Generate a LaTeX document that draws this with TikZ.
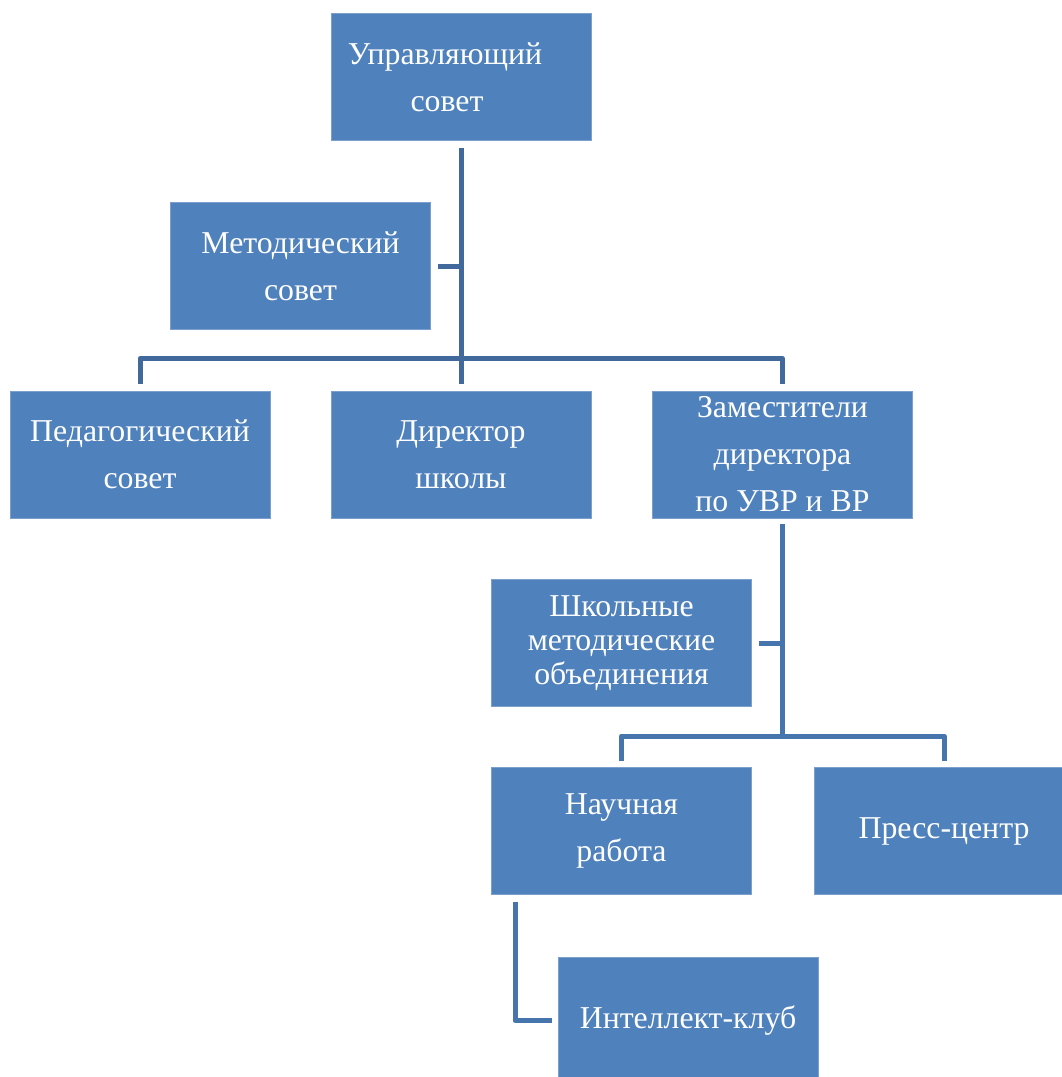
\documentclass[tikz,border=0pt]{standalone}
\usepackage{fontspec}
\setmainfont{Liberation Serif}
\usetikzlibrary{positioning, calc}
\definecolor{boxblue}{HTML}{4F81BD}
\definecolor{linedark}{HTML}{41699B}
\definecolor{linelight}{HTML}{4674AD}

\begin{document}
\begin{tikzpicture}
  [
  x=1pt, y=-1pt,
  block/.style = {rectangle, fill=boxblue, draw=boxblue!75!white,
    line width=.8pt, text=white, align=center,
    minimum width = 260pt, minimum height = 127pt,
    font=\fontsize{31.8}{47}\selectfont},
  % line
  line/.style = {draw=linedark, line width=5pt, line join=round},
  line2/.style = {line, draw=linelight},
  ]
  \clip (0,0) rectangle (1062,1077);
  \fill[white] (0,0) rectangle (1062,1077);

  % nodes
  \node [block] (uprav) at (461,77)
  {Управляющий\hspace*{32pt}\\совет\hspace*{28pt}};
  \node [block] (metod) at (300.5,266) {Методический\\совет};
  \node [block] (ped) at (140,454.5) {Педагогический\\совет};
  \node [block] (dir) at (461,454.5) {Директор\\школы};
  \node [block] (zam) at (782.5,454.5) {Заместители\\директора\\по УВР и ВР};
  \node [block, font=\fontsize{31.8}{34}\selectfont] (shmo) at (621.5,643)
  {Школьные\\методические\\объединения};
  \node [block] (nauch) at (621.5,831) {Научная\\работа};
  \node [block] (press) at (944,831) {Пресс-центр};
  \node [block] (intel) at (688,1020.5) {Интеллект-клуб};

  % path
  \path [line] ([yshift=-7pt]uprav.south) -- ([yshift=7pt]dir.north);
  \path [line] ([yshift=7pt]ped.north) |- ([yshift=32pt]dir.north)
  -| ([yshift=7pt]zam.north);
  \path [line] ([xshift=7pt]metod.east) -- (uprav.south |- metod.east);
  % zam
  \path [line2] ([yshift=-6pt]zam.south) -- ([yshift=31pt]zam.south |- nauch.north);
  \path [line2] ([yshift=6pt]nauch.north) |- ([yshift=31pt]nauch.north)
  -| ([yshift=6pt]press.north);
  \path [line2] ([xshift=7pt]shmo.east) -- (zam.south |- shmo.east);
  \path [line2] ([shift={(24pt,-7pt)}]nauch.south west) |- ([xshift=-6pt]intel.west);

\end{tikzpicture}
\end{document}
